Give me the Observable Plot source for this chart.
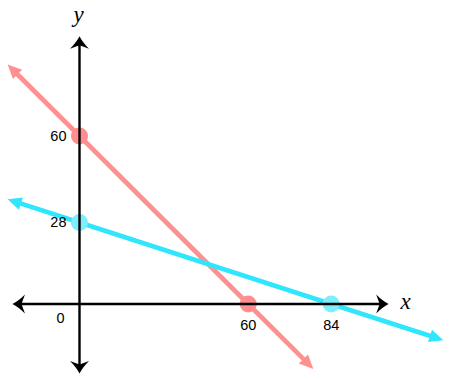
<!DOCTYPE html>
<html>
<head>
<meta charset="utf-8">
<script src="https://cdn.jsdelivr.net/npm/d3@7"></script>
<script src="https://cdn.jsdelivr.net/npm/@observablehq/plot@0.6"></script>
<style>
  html, body { margin: 0; padding: 0; background: #fff; }
</style>
</head>
<body>
<div id="chart"></div>
<script>
// Red line: y-intercept 60, x-intercept 60 (plus the extents of its arrow ends)
const redX = [-23.8, 0, 60, 77.4];
const redY = [84.6, 60, 0, -20.6];
// Cyan line: y-intercept 28, x-intercept 84
const cyanX = [-23.2, 0, 84, 114.5];
const cyanY = [35.8, 28, 0, -11.7];
// Intercept points
const redDotX = [0, 60];
const redDotY = [60, 0];
const cyanDotX = [0, 84];
const cyanDotY = [28, 0];
// Tick labels
const xTicks = [60, 84];
const yTicks = [60, 28];
const originLabel = ["0"];
// Axis extents
const xAxisExtent = [-21.0, 98.3];
const yAxisExtent = [-21.1, 93.9];
const axisNames = ["x", "y"];

const RED = "#ff9090";
const RED_DOT = "#ff8e8e";
const CYAN = "#30e6fc";
const CYAN_DOT = "#7eeefc";

const NS = "http://www.w3.org/2000/svg";
function makeMarker(d, vb, w, h) {
  return (color, context) => {
    const doc = (context && context.document) || document;
    const m = doc.createElementNS(NS, "marker");
    m.setAttribute("viewBox", vb);
    m.setAttribute("markerWidth", w);
    m.setAttribute("markerHeight", h);
    m.setAttribute("markerUnits", "userSpaceOnUse");
    m.setAttribute("orient", "auto-start-reverse");
    m.setAttribute("refX", 0);
    m.setAttribute("refY", 0);
    m.setAttribute("overflow", "visible");
    const p = doc.createElementNS(NS, "path");
    p.setAttribute("d", d);
    p.setAttribute("fill", color);
    p.setAttribute("stroke", "none");
    m.appendChild(p);
    return m;
  };
}
const triHead = makeMarker("M7,0L-7,-6.5L-7,6.5Z", "-15 -11 25 22", 25, 22);
const barbHead = makeMarker("M8,0Q2,-3 -4.5,-9.5L-1,0L-4.5,9.5Q2,3 8,0Z", "-15 -11 25 22", 25, 22);

const pts = (xs, ys) => xs.map((x, i) => ({x, y: ys[i]}));
const SANS = "Liberation Sans, Arial, sans-serif";

const plot = Plot.plot({
  width: 457,
  height: 380,
  marginTop: 0, marginRight: 0, marginBottom: 0, marginLeft: 0,
  style: {background: "white"},
  x: {type: "linear", domain: [0, 60, 84], range: [79, 247.7, 330.7], axis: null},
  y: {type: "linear", domain: [0, 28, 60], range: [303.5, 222, 135.5], axis: null},
  marks: [
    Plot.line(pts(redX, redY), {x: "x", y: "y", stroke: RED, strokeWidth: 4.6, strokeLinecap: "butt", markerStart: triHead, markerEnd: triHead}),
    Plot.line(pts(cyanX, cyanY), {x: "x", y: "y", stroke: CYAN, strokeWidth: 4.6, strokeLinecap: "butt", markerStart: triHead, markerEnd: triHead}),
    Plot.dot(pts(redDotX, redDotY), {x: "x", y: "y", r: 8.5, fill: RED_DOT}),
    Plot.dot(pts(cyanDotX, cyanDotY), {x: "x", y: "y", r: 8.5, fill: CYAN_DOT}),
    Plot.line(pts(xAxisExtent, [0, 0]), {x: "x", y: "y", stroke: "black", strokeWidth: 2.4, strokeLinecap: "butt", markerStart: barbHead, markerEnd: barbHead}),
    Plot.line(pts([0, 0], yAxisExtent), {x: "x", y: "y", stroke: "black", strokeWidth: 2.4, strokeLinecap: "butt", markerStart: barbHead, markerEnd: barbHead}),
    Plot.text(yTicks, {x: 0, y: d => d, text: d => String(d), textAnchor: "end", dx: -13, fontSize: 14.5, fontFamily: SANS, fill: "black"}),
    Plot.text(xTicks, {x: d => d, y: 0, text: d => String(d), dy: 21.5, fontSize: 14.5, fontFamily: SANS, fill: "black"}),
    Plot.text(originLabel, {x: 0, y: 0, text: d => d, dx: -19, dy: 14, fontSize: 14.5, fontFamily: SANS, fill: "black"}),
    Plot.text([axisNames[0]], {x: xAxisExtent[1], y: 0, text: d => d, dx: 25, dy: -2, fontSize: 23, fontStyle: "italic", fontFamily: "Liberation Serif, serif", fill: "black"}),
    Plot.text([axisNames[1]], {x: 0, y: yAxisExtent[1], text: d => d, dx: -1, dy: -30, fontSize: 23, fontStyle: "italic", fontFamily: "Liberation Serif, serif", fill: "black"})
  ]
});
document.getElementById("chart").appendChild(plot);
</script>
</body>
</html>
